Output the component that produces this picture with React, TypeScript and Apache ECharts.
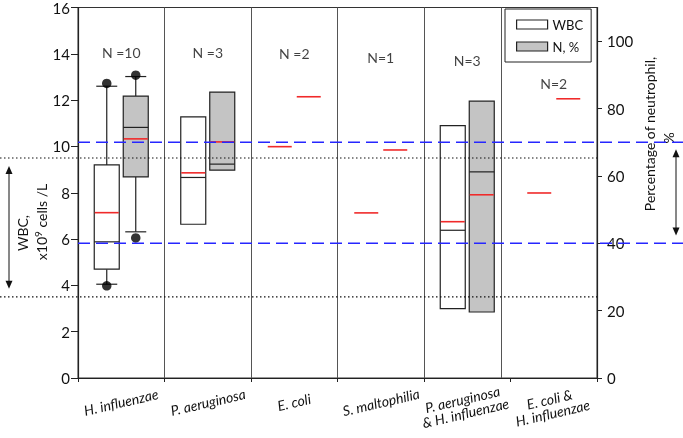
import React, { useEffect, useRef } from "react";
import * as echarts from "echarts";

// ---------- data ----------
const categories = [
  "H. influenzae",
  "P. aeruginosa",
  "E. coli",
  "S. maltophilia",
  "P. aeruginosa\n& H. influenzae",
  "E. coli &\nH. influenzae",
];
const nLabels = ["N =10", "N =3", "N =2", "N=1", "N=3", "N=2"];
const nLabelHeights = [14.05, 14.05, 14.0, 13.85, 13.7, 12.7]; // in WBC-axis units

// [categoryIndex, lowerWhisker, Q1, median, Q3, upperWhisker]
const wbcBoxes = [
  [0, 4.05, 4.7, 5.88, 9.2, 12.6],
  [1, null, 6.64, 8.66, 11.28, null],
  [4, null, 3.0, 6.38, 10.9, null],
];
const wbcMeans = [7.14, 8.86, 9.99, 7.13, 6.75, 7.99];
const wbcOutliers = [
  [0, 12.72],
  [0, 3.98],
];

const nBoxes = [
  [0, 43.4, 59.7, 74.4, 83.7, 89.5],
  [1, null, 61.7, 63.5, 84.9, null],
  [4, null, 19.6, 61.2, 82.2, null],
];
const nMeans = [71.0, 70.1, 83.5, 67.7, 54.4, 82.9];
const nOutliers = [
  [0, 89.9],
  [0, 41.6],
];

const wbcNormalRange = [3.5, 9.5];
const neutrophilNormalRange = [40, 70];
const wbcArrowRange = [9.15, 3.85];
const neutrophilArrowRange = [67.9, 42.3];

const leftTicks = [0, 2, 4, 6, 8, 10, 12, 14, 16];
const rightTicks = [0, 20, 40, 60, 80, 100];
const separatorPositions = [1, 2, 3, 4, 4.89];

// ---------- layout / style ----------
const W = 683;
const H = 438;
const GRID_LEFT = 78;
const GRID_RIGHT = 86;
const GRID_TOP = 6;
const GRID_BOTTOM = 60;
const FONT = "Lato";
const BOX_OFFSET = 14.5;
const BOX_HALF = 12.5;
const CAP_HALF = 10.5;
const RED = "#f02a2a";
const GREY = "#c4c4c4";
const BLUE = "#2626ff";
const LABEL_ROT = 0.23;

function boxRenderer(offset: number, fill: string) {
  return (params: any, api: any) => {
    const c = api.value(0);
    const lo = api.value(1);
    const q1 = api.value(2);
    const med = api.value(3);
    const q3 = api.value(4);
    const hi = api.value(5);
    const xc = api.coord([c, q1])[0] + offset;
    const y = (v: number) => api.coord([c, v])[1];
    const ls = { stroke: "#222", lineWidth: 1.2 };
    const children: any[] = [];
    if (hi != null && !isNaN(hi)) {
      children.push({ type: "line", shape: { x1: xc, y1: y(q3), x2: xc, y2: y(hi) }, style: ls });
      children.push({ type: "line", shape: { x1: xc - CAP_HALF, y1: y(hi), x2: xc + CAP_HALF, y2: y(hi) }, style: ls });
    }
    if (lo != null && !isNaN(lo)) {
      children.push({ type: "line", shape: { x1: xc, y1: y(q1), x2: xc, y2: y(lo) }, style: ls });
      children.push({ type: "line", shape: { x1: xc - CAP_HALF, y1: y(lo), x2: xc + CAP_HALF, y2: y(lo) }, style: ls });
    }
    children.push({
      type: "rect",
      shape: { x: xc - BOX_HALF, y: y(q3), width: BOX_HALF * 2, height: y(q1) - y(q3) },
      style: { fill, stroke: "#222", lineWidth: 1.2 },
    });
    children.push({
      type: "line",
      shape: { x1: xc - BOX_HALF, y1: y(med), x2: xc + BOX_HALF, y2: y(med) },
      style: ls,
    });
    return { type: "group", children };
  };
}

function meanRenderer(offset: number) {
  return (params: any, api: any) => {
    const c = api.value(0);
    const p = api.coord([c, api.value(1)]);
    const xc = p[0] + offset;
    return {
      type: "line",
      shape: { x1: xc - BOX_HALF + 0.5, y1: p[1], x2: xc + BOX_HALF - 0.5, y2: p[1] },
      style: { stroke: RED, lineWidth: 1.6 },
    };
  };
}

export default function App() {
  const ref = useRef<HTMLDivElement>(null);
  useEffect(() => {
    if (!ref.current) return;
    const chart = echarts.init(ref.current, undefined, { renderer: "svg" });
    const option: any = {
      animation: false,
      textStyle: { fontFamily: FONT },
      grid: {
        left: GRID_LEFT,
        right: GRID_RIGHT,
        top: GRID_TOP,
        bottom: GRID_BOTTOM,
        show: true,
        borderColor: "#333",
        borderWidth: 1,
        backgroundColor: "transparent",
      },
      legend: {
        left: 505,
        top: 9,
        orient: "vertical",
        icon: "rect",
        itemWidth: 31,
        itemHeight: 9,
        itemGap: 9,
        padding: [9, 8, 9, 11],
        backgroundColor: "#fff",
        borderColor: "#222",
        borderWidth: 1,
        textStyle: { fontFamily: FONT, fontSize: 13, color: "#111" },
        data: [
          { name: "WBC", itemStyle: { color: "#fff", borderColor: "#222", borderWidth: 1.2 } },
          { name: "N, %", itemStyle: { color: GREY, borderColor: "#222", borderWidth: 1.2 } },
        ],
      },
      xAxis: [
        {
          type: "category",
          data: categories,
          boundaryGap: true,
          axisLine: { lineStyle: { color: "#222", width: 1.2 } },
          axisTick: { show: true, interval: 0, length: 4, lineStyle: { color: "#222" } },
          axisLabel: { show: false },
          splitLine: { show: false },
        },
        { type: "value", min: 0, max: 6, show: false },
      ],
      yAxis: [
        {
          type: "value",
          min: 0,
          max: 16,
          interval: 2,
          position: "left",
          axisLine: { show: true, lineStyle: { color: "#222", width: 1.2 } },
          axisTick: { show: true, length: 7, lineStyle: { color: "#222" }, customValues: leftTicks },
          axisLabel: { fontFamily: FONT, fontSize: 15, color: "#111", margin: 8, customValues: leftTicks },
          splitLine: { show: false },
        },
        {
          type: "value",
          min: 0,
          max: 110,
          interval: 20,
          position: "right",
          axisLine: { show: true, lineStyle: { color: "#222", width: 1.2 } },
          axisTick: { show: true, length: 5, lineStyle: { color: "#222" }, customValues: rightTicks },
          axisLabel: { fontFamily: FONT, fontSize: 15, color: "#111", margin: 10, customValues: rightTicks },
          splitLine: { show: false },
        },
      ],
      series: [
        {
          type: "line",
          xAxisIndex: 1,
          yAxisIndex: 0,
          data: [],
          silent: true,
          markLine: {
            silent: true,
            symbol: "none",
            label: { show: false },
            lineStyle: { color: "#555", width: 1, type: "solid" },
            data: separatorPositions.map((v) => ({ xAxis: v })),
          },
        },
        {
          name: "WBC",
          type: "custom",
          xAxisIndex: 0,
          yAxisIndex: 0,
          itemStyle: { color: "#fff", borderColor: "#222" },
          encode: { x: 0, y: [1, 2, 3, 4, 5] },
          data: wbcBoxes,
          renderItem: boxRenderer(-BOX_OFFSET, "#fff"),
          z: 3,
        },
        {
          name: "N, %",
          type: "custom",
          xAxisIndex: 0,
          yAxisIndex: 1,
          itemStyle: { color: GREY, borderColor: "#222" },
          encode: { x: 0, y: [1, 2, 3, 4, 5] },
          data: nBoxes,
          renderItem: boxRenderer(BOX_OFFSET, GREY),
          z: 3,
        },
        {
          name: "WBC mean",
          type: "custom",
          xAxisIndex: 0,
          yAxisIndex: 0,
          encode: { x: 0, y: 1 },
          data: wbcMeans.map((v, i) => [i, v]),
          renderItem: meanRenderer(-BOX_OFFSET),
          z: 4,
        },
        {
          name: "N mean",
          type: "custom",
          xAxisIndex: 0,
          yAxisIndex: 1,
          encode: { x: 0, y: 1 },
          data: nMeans.map((v, i) => [i, v]),
          renderItem: meanRenderer(BOX_OFFSET),
          z: 4,
        },
        {
          name: "WBC outliers",
          type: "scatter",
          xAxisIndex: 0,
          yAxisIndex: 0,
          symbol: "circle",
          symbolSize: 9.5,
          symbolOffset: [-BOX_OFFSET, 0],
          itemStyle: { color: "#000" },
          data: wbcOutliers,
          z: 5,
        },
        {
          name: "N outliers",
          type: "scatter",
          xAxisIndex: 0,
          yAxisIndex: 1,
          symbol: "circle",
          symbolSize: 9.5,
          symbolOffset: [BOX_OFFSET, 0],
          itemStyle: { color: "#000" },
          data: nOutliers,
          z: 5,
        },
        {
          name: "N labels",
          type: "scatter",
          xAxisIndex: 0,
          yAxisIndex: 0,
          symbolSize: 1,
          itemStyle: { color: "rgba(0,0,0,0)" },
          data: nLabelHeights.map((v, i) => [i, v]),
          label: {
            show: true,
            position: "inside",
            formatter: (p: any) => nLabels[p.dataIndex],
            fontFamily: FONT,
            fontSize: 14,
            color: "#111",
          },
          z: 5,
        },
      ],
    };
    chart.setOption(option);

    const gridRightX = W - GRID_RIGHT;
    const gridBottomY = H - GRID_BOTTOM;
    const yL = (v: number) => chart.convertToPixel({ yAxisIndex: 0 }, v) as number;
    const yR = (v: number) => chart.convertToPixel({ yAxisIndex: 1 }, v) as number;
    const xC = (i: number) => chart.convertToPixel({ xAxisIndex: 0 }, i) as number;

    const arrow = (x: number, yTop: number, yBot: number) => [
      { type: "line", z: 10, shape: { x1: x, y1: yTop + 6, x2: x, y2: yBot - 6 }, style: { stroke: "#111", lineWidth: 1 } },
      { type: "polygon", z: 10, shape: { points: [[x, yTop], [x - 3.5, yTop + 8], [x + 3.5, yTop + 8]] }, style: { fill: "#111" } },
      { type: "polygon", z: 10, shape: { points: [[x, yBot], [x - 3.5, yBot - 8], [x + 3.5, yBot - 8]] }, style: { fill: "#111" } },
    ];

    const graphics: any[] = [];
    wbcNormalRange.forEach((v) => {
      const y = yL(v);
      graphics.push({
        type: "line",
        z: 10,
        shape: { x1: 0, y1: y, x2: gridRightX, y2: y },
        style: { stroke: "#111", lineWidth: 1.2, lineDash: [1.5, 2.5] },
      });
    });
    neutrophilNormalRange.forEach((v) => {
      const y = yR(v);
      graphics.push({
        type: "line",
        z: 10,
        shape: { x1: GRID_LEFT, y1: y, x2: W, y2: y },
        style: { stroke: BLUE, lineWidth: 1.3, lineDash: [12, 6] },
      });
    });
    graphics.push(...arrow(9, yL(wbcArrowRange[0]), yL(wbcArrowRange[1])));
    graphics.push(...arrow(676, yR(neutrophilArrowRange[0]), yR(neutrophilArrowRange[1])));

    // category labels (rotated, centred on each category)
    categories.forEach((name, i) => {
      const multi = name.indexOf("\n") >= 0;
      graphics.push({
        type: "text",
        x: Math.round(xC(i)) + (multi ? -3 : 0),
        y: gridBottomY + (multi ? 28 : 24),
        rotation: LABEL_ROT,
        style: {
          text: name,
          fontFamily: FONT,
          fontStyle: "italic",
          fontSize: 14,
          fill: "#111",
          align: "center",
          verticalAlign: "middle",
        },
      });
    });

    graphics.push({
      type: "text",
      x: 22,
      y: 233,
      rotation: Math.PI / 2,
      style: { text: "WBC,", font: `14px ${FONT}`, fill: "#111", align: "center", verticalAlign: "middle" },
    });
    graphics.push({
      type: "text",
      x: 41,
      y: 222,
      rotation: Math.PI / 2,
      style: {
        text: "x10{sup|9} cells /L",
        fontFamily: FONT,
        fontSize: 14,
        fill: "#111",
        align: "center",
        verticalAlign: "middle",
        rich: {
          sup: { fontFamily: FONT, fontSize: 10, fill: "#111", padding: [0, 0, 7, 0] },
        },
      },
    });
    graphics.push({
      type: "text",
      x: 649,
      y: 134,
      rotation: Math.PI / 2,
      style: {
        text: "Percentage of neutrophil,",
        font: `14px ${FONT}`,
        fill: "#111",
        align: "center",
        verticalAlign: "middle",
      },
    });
    graphics.push({
      type: "text",
      x: 668,
      y: 138,
      rotation: Math.PI / 2,
      style: { text: "%", font: `14px ${FONT}`, fill: "#111", align: "center", verticalAlign: "middle" },
    });

    // re-set the whole option at once (not merged) now that pixel positions are known
    chart.setOption({ ...option, graphic: graphics }, true);
    return () => chart.dispose();
  }, []);
  return <div ref={ref} style={{ position: "fixed", left: 0, top: 0, width: W, height: H }} />;
}
